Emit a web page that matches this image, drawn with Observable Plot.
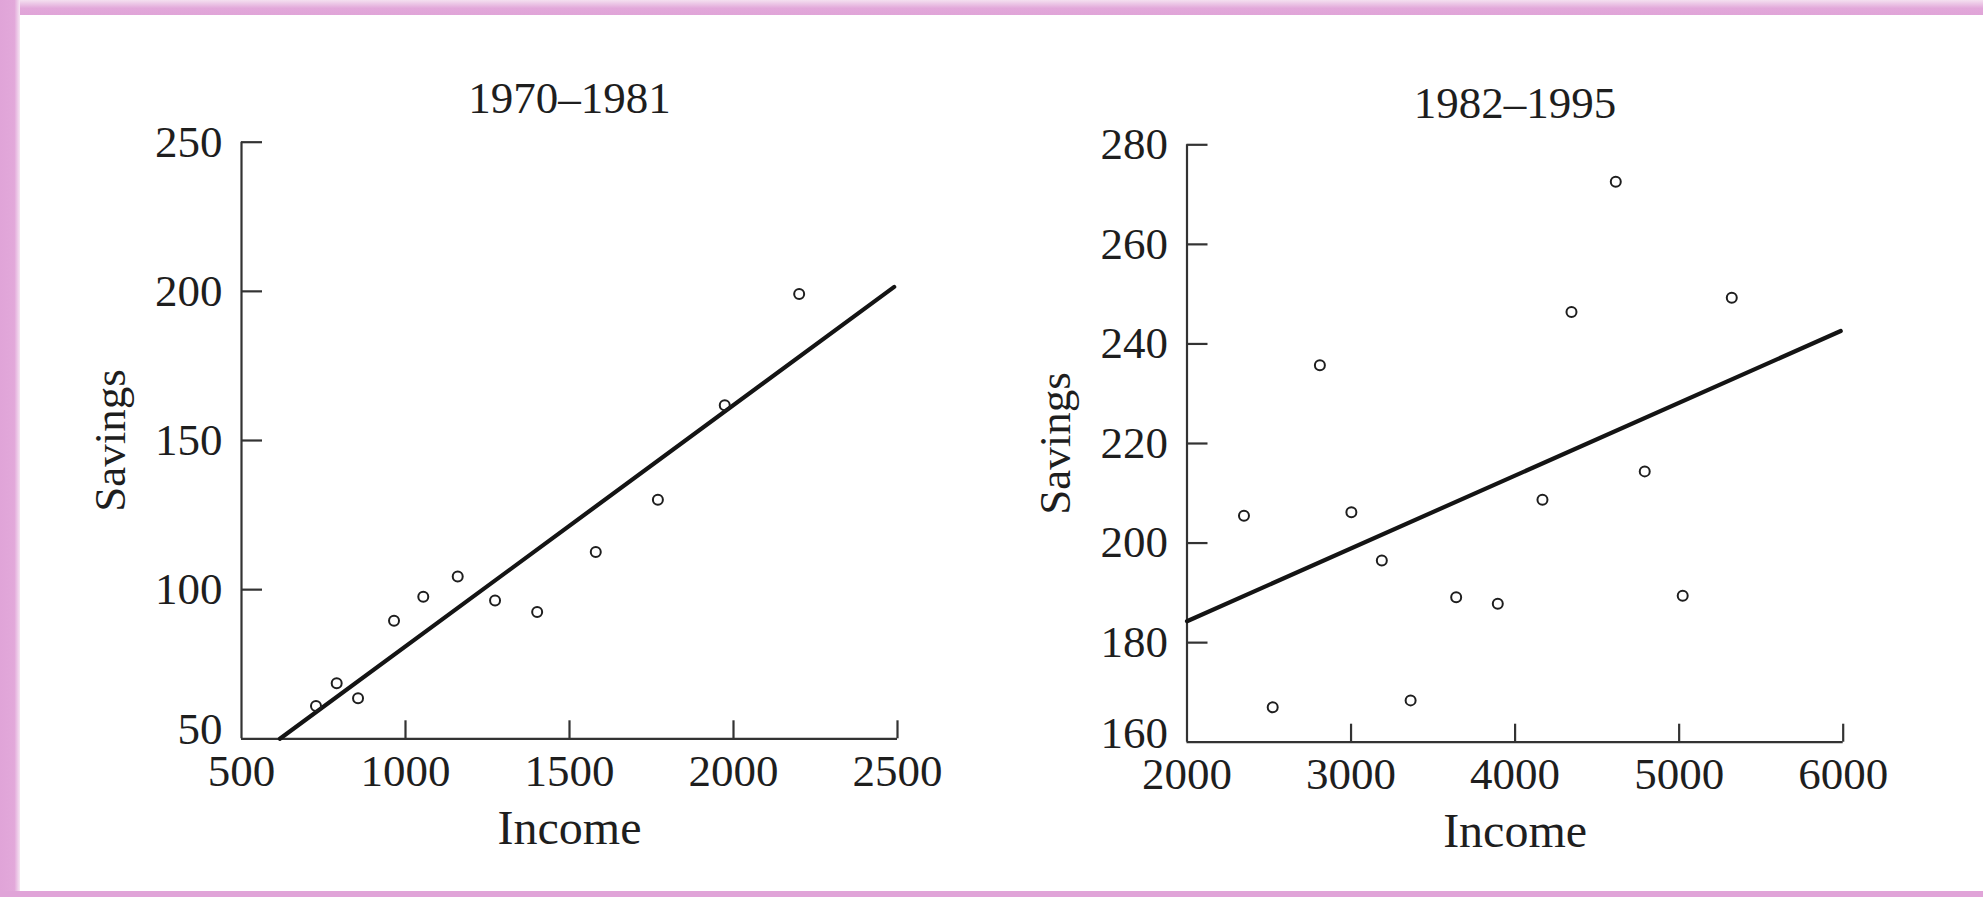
<!DOCTYPE html>
<html><head><meta charset="utf-8">
<script src="https://cdn.jsdelivr.net/npm/d3@7"></script>
<script src="https://cdn.jsdelivr.net/npm/@observablehq/plot@0.6"></script>
<style>
html,body{margin:0;padding:0;background:#fff;width:1983px;height:897px;overflow:hidden;position:relative;}
.bar{position:absolute;}
#top{left:0;top:0;width:1983px;height:15px;background:linear-gradient(#f4e0f0,#e2a8da 55%,#e0a4d8);}
#left{left:0;top:0;width:20px;height:897px;background:linear-gradient(to right,#e0a4d8 0,#e2a8da 72%,#f6e6f3 100%);}
#bottom{left:0;top:891px;width:1983px;height:6px;background:#e0a4d8;}
#p1{position:absolute;left:0;top:0;}
#p2{position:absolute;left:1000px;top:0;}
</style></head>
<body>
<div class="bar" id="top"></div>
<div class="bar" id="left"></div>
<div class="bar" id="bottom"></div>
<div id="p1"></div>
<div id="p2"></div>
<script>
// Panel 1: 1970–1981
const income1 = [727.1, 790.2, 855.3, 965.0, 1054.2, 1159.2, 1273.0, 1401.4, 1580.1, 1769.5, 1973.3, 2200.2];
const savings1 = [61.0, 68.6, 63.6, 89.6, 97.6, 104.4, 96.4, 92.5, 112.6, 130.1, 161.8, 199.1];
const fitX1 = [617, 2490];
const fitY1 = [50, 201.5];
const xTicks1 = [500, 1000, 1500, 2000, 2500];
const yTicks1 = [50, 100, 150, 200, 250];
const title1 = "1970–1981";

// Panel 2: 1982–1995
const income2 = [2347.3, 2522.4, 2810.0, 3002.0, 3187.6, 3363.1, 3640.8, 3894.5, 4166.8, 4343.7, 4613.7, 4790.2, 5021.7, 5320.8];
const savings2 = [205.5, 167.0, 235.7, 206.2, 196.5, 168.4, 189.1, 187.8, 208.7, 246.4, 272.6, 214.4, 189.4, 249.3];
const fitX2 = [2000, 5985];
const fitY2 = [184.3, 242.6];
const xTicks2 = [2000, 3000, 4000, 5000, 6000];
const yTicks2 = [160, 180, 200, 220, 240, 260, 280];
const title2 = "1982–1995";

const xLabel = "Income";
const yLabel = "Savings";

const FONT = "'Liberation Serif', 'Times New Roman', 'DejaVu Serif', serif";
const AXIS = "#333";
const INK = "#1e1e1e";

function panel(o) {
  const frameW = o.width - o.ml - o.mr;
  const frameH = 897 - o.mt - o.mb;
  const data = o.income.map((v, i) => ({income: v, savings: o.savings[i]}));
  const fit = o.fitX.map((v, i) => ({x: v, y: o.fitY[i]}));
  const yt = o.yTicks;
  return Plot.plot({
    width: o.width, height: 897,
    marginLeft: o.ml, marginRight: o.mr, marginTop: o.mt, marginBottom: o.mb,
    style: {fontFamily: FONT, background: "transparent", color: INK, overflow: "visible"},
    x: {domain: [o.xTicks[0], o.xTicks[o.xTicks.length - 1]], axis: null},
    y: {domain: [yt[0], yt[yt.length - 1]], axis: null},
    marks: [
      Plot.ruleX([o.xTicks[0]], {stroke: AXIS, strokeWidth: 2.2}),
      Plot.ruleY([yt[0]], {stroke: AXIS, strokeWidth: 2.2}),
      Plot.tickX(o.xTicks.slice(1), {x: d => d, insetTop: frameH - 18, stroke: AXIS, strokeWidth: 2.2}),
      Plot.tickY(yt.slice(1), {y: d => d, insetRight: frameW - 21, stroke: AXIS, strokeWidth: 2.2}),
      Plot.text(o.xTicks, {x: d => d, text: d => String(d), frameAnchor: "bottom", lineAnchor: "top", dy: 15, fontSize: 45, fill: INK}),
      Plot.text(yt.slice(1), {y: d => d, text: d => String(d), frameAnchor: "left", textAnchor: "end", lineAnchor: "middle", dx: -19, fontSize: 45, fill: INK}),
      Plot.text([yt[0]], {y: d => d, text: d => String(d), frameAnchor: "left", textAnchor: "end", lineAnchor: "middle", dx: -19, dy: -9, fontSize: 45, fill: INK}),
      Plot.line(fit, {x: "x", y: "y", stroke: "#141414", strokeWidth: 4.2}),
      Plot.dot(data, {x: "income", y: "savings", r: 5, stroke: INK, strokeWidth: 2}),
      Plot.text([o.title], {frameAnchor: "top", textAnchor: "middle", lineAnchor: "middle", dy: o.titleDy, fontSize: 45, fill: INK}),
      Plot.text([yLabel], {frameAnchor: "left", textAnchor: "middle", lineAnchor: "middle", dx: -131, rotate: -90, fontSize: 45, fill: INK}),
      Plot.text([xLabel], {frameAnchor: "bottom", textAnchor: "middle", lineAnchor: "top", dy: 71, fontSize: 48, fill: INK})
    ]
  });
}

document.getElementById("p1").append(panel({
  width: 1000, ml: 241, mr: 103, mt: 141.7, mb: 158.7,
  income: income1, savings: savings1, fitX: fitX1, fitY: fitY1,
  xTicks: xTicks1, yTicks: yTicks1, title: title1, titleDy: -44
}));
document.getElementById("p2").append(panel({
  width: 983, ml: 186.5, mr: 140.3, mt: 144.3, mb: 155.3,
  income: income2, savings: savings2, fitX: fitX2, fitY: fitY2,
  xTicks: xTicks2, yTicks: yTicks2, title: title2, titleDy: -41
}));
</script>
</body></html>
